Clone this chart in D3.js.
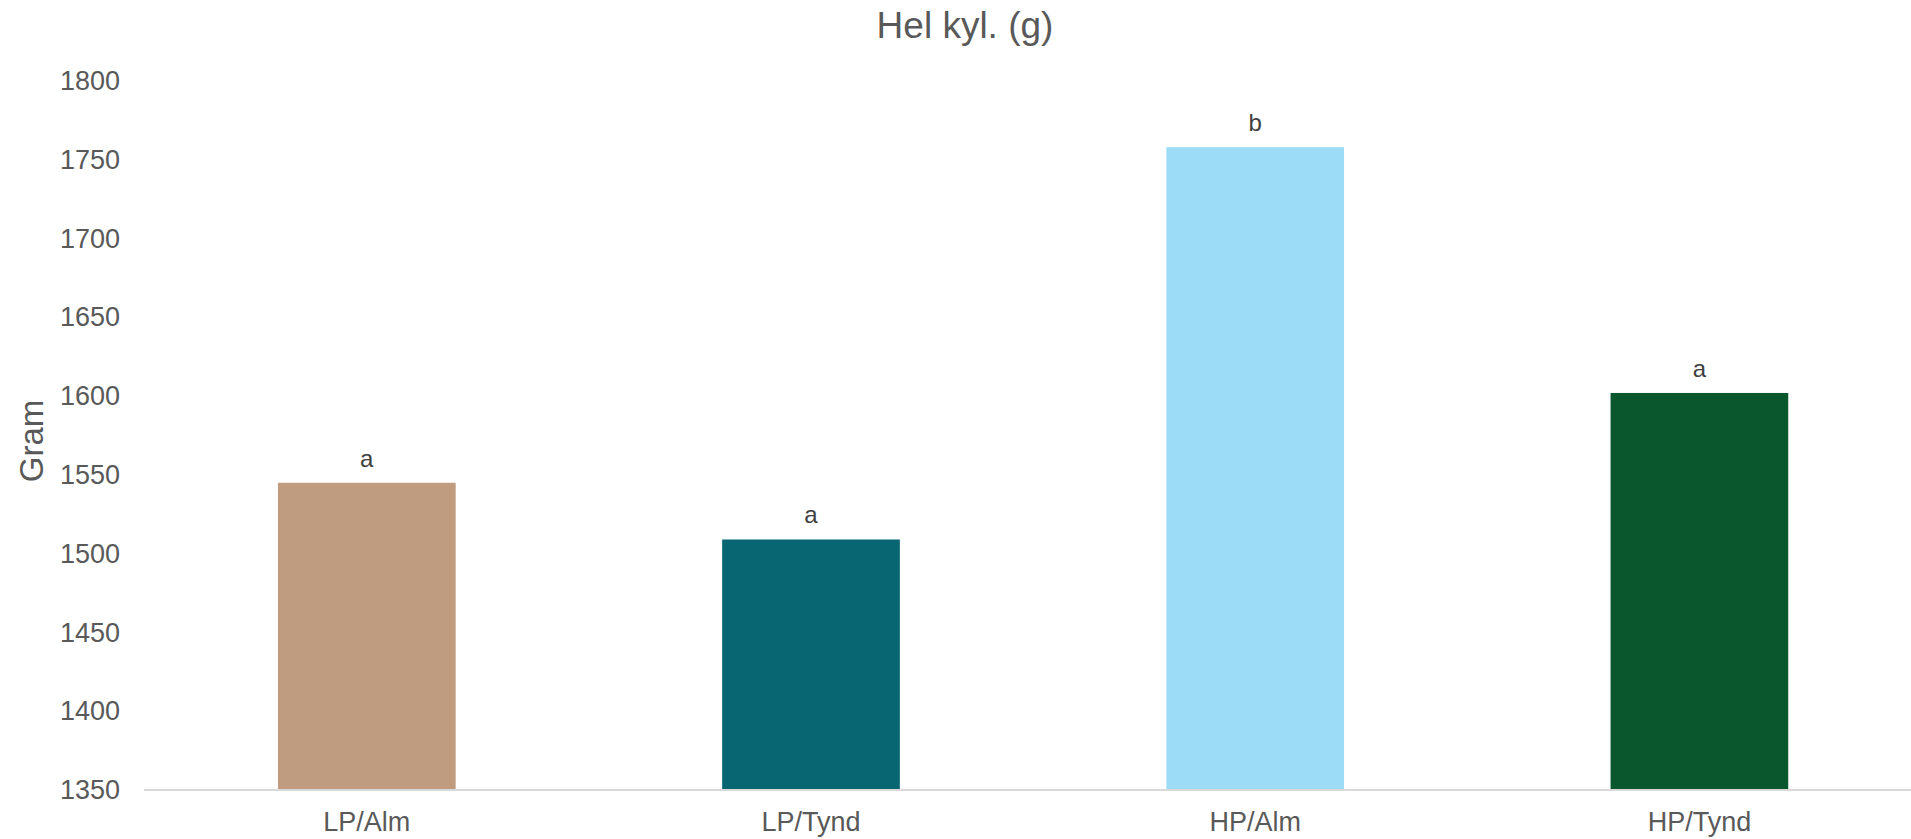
<!DOCTYPE html>
<html><head><meta charset="utf-8">
<script src="https://cdn.jsdelivr.net/npm/d3@7"></script>
<style>body{margin:0;background:#fff}svg{display:block}text{font-family:"Liberation Sans",Arial,sans-serif}</style>
</head><body>
<script>
const categories = ["LP/Alm","LP/Tynd","HP/Alm","HP/Tynd"];
const values = [1545, 1509, 1758, 1602];
const letters = ["a","a","b","a"];
const colors = ["#BF9B80","#086572","#9DDCF7","#0A572E"];
const yTicks = [1350,1400,1450,1500,1550,1600,1650,1700,1750,1800];
const title = "Hel kyl. (g)";
const yTitle = "Gram";

const W = 1911, H = 839;
const svg = d3.select("body").append("svg").attr("width", W).attr("height", H);
const x = d3.scaleBand().domain(categories).range([144.7, 1921.5]).paddingInner(0.6).paddingOuter(0.3);
const y = d3.scaleLinear().domain([1350, 1800]).range([790, 81]);

svg.append("g").selectAll("rect").data(categories).join("rect")
  .attr("x", d => x(d)).attr("width", x.bandwidth())
  .attr("y", (d,i) => y(values[i])).attr("height", (d,i) => y(1350) - y(values[i]))
  .attr("fill", (d,i) => colors[i]);

svg.append("line").attr("x1", 144).attr("x2", W).attr("y1", y(1350)).attr("y2", y(1350))
  .attr("stroke", "#d9d9d9").attr("stroke-width", 2);

const ya = d3.axisLeft(y).tickValues(yTicks).tickFormat(d3.format("d")).tickSize(0).tickPadding(0);
svg.append("g").attr("transform", "translate(120,0)").call(ya)
  .call(g => g.select(".domain").remove())
  .selectAll("text").attr("font-size", 27).attr("fill", "#595959").attr("font-family", "Liberation Sans, Arial, sans-serif");

const xa = d3.axisBottom(x).tickSize(0).tickPadding(0);
svg.append("g").attr("transform", "translate(0,812)").call(xa)
  .call(g => g.select(".domain").remove())
  .selectAll("text").attr("font-size", 27).attr("fill", "#595959").attr("dy", "0.72em").attr("font-family", "Liberation Sans, Arial, sans-serif");

svg.append("g").selectAll("text").data(categories).join("text")
  .attr("x", d => x(d) + x.bandwidth()/2).attr("y", (d,i) => y(values[i]) - 16)
  .attr("text-anchor", "middle").attr("font-size", 24).attr("fill", "#404040")
  .text((d,i) => letters[i]);

svg.append("text").attr("x", 965).attr("y", 38).attr("text-anchor", "middle")
  .attr("font-size", 37).attr("fill", "#595959").text(title);

svg.append("text").attr("transform", "translate(43,441) rotate(-90)").attr("text-anchor", "middle")
  .attr("font-size", 33).attr("fill", "#595959").text(yTitle);
</script>
</body></html>
